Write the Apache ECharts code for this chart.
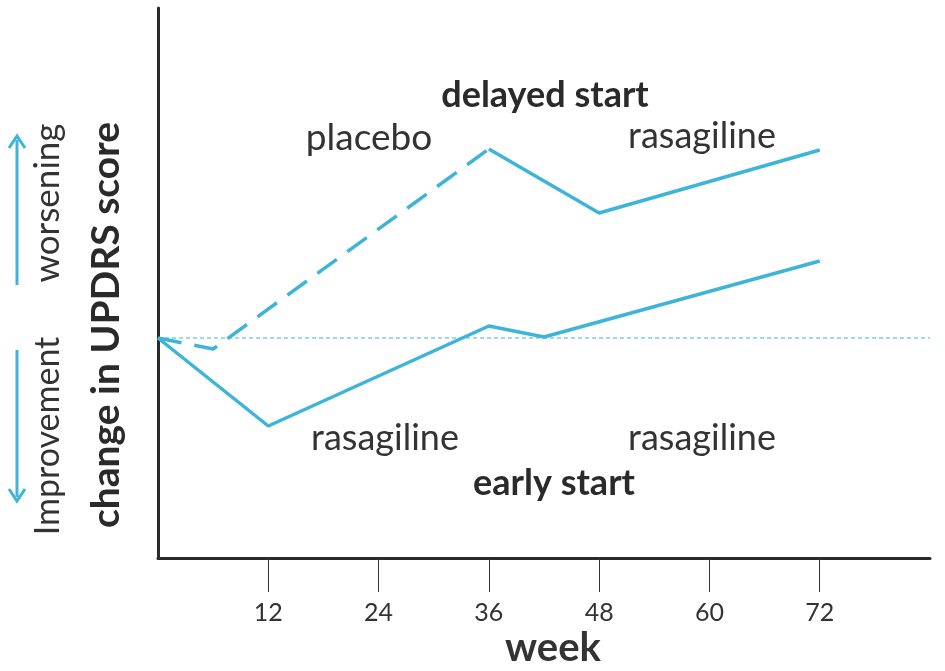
<!DOCTYPE html>
<html><head><meta charset="utf-8">
<script src="https://cdn.jsdelivr.net/npm/echarts@6/dist/echarts.min.js"></script>
<style>html,body{margin:0;padding:0;background:#fff}#c{width:945px;height:671px}</style>
</head><body><div id="c"></div>
<script>
const weekTicks = [12, 24, 36, 48, 60, 72];
const delayedPlaceboWeeks = [0, 6, 36];
const delayedPlaceboValues = [0, -1.1, 18.9];
const delayedRasaWeeks = [36, 48, 72];
const delayedRasaValues = [18.9, 12.5, 18.8];
const earlyWeeks = [0, 12, 36, 42, 72];
const earlyValues = [0, -8.8, 1.2, 0.1, 7.7];
const baselineWeeks = [0, 84];
const baselineValues = [0, 0];

const C = '#3db4d8';
const FONT = 'Lato, "Open Sans", sans-serif';
const zip = (a, b) => a.map((x, i) => [x, b[i]]);

const chart = echarts.init(document.getElementById('c'));
chart.setOption({
  animation: false,
  backgroundColor: '#fff',
  grid: { left: 158, top: 8, right: 15, bottom: 113 },
  xAxis: {
    type: 'value', min: 0, max: 84, interval: 12,
    splitLine: { show: false },
    axisLine: { onZero: false, lineStyle: { color: '#2a2a2a', width: 3 } },
    axisTick: { show: true, length: 34, customValues: weekTicks, lineStyle: { color: '#333', width: 1 } },
    axisLabel: { customValues: weekTicks, margin: 42, fontSize: 25, color: '#333', fontFamily: FONT }
  },
  yAxis: {
    type: 'value', min: -22, max: 33,
    splitLine: { show: false },
    axisLine: { show: true, onZero: false, lineStyle: { color: '#2a2a2a', width: 3 } },
    axisTick: { show: false },
    axisLabel: { show: false }
  },
  series: [
    { type: 'line', data: zip(baselineWeeks, baselineValues), symbol: 'none',
      lineStyle: { color: C, width: 1, type: [4, 3] }, silent: true },
    { type: 'line', data: zip(delayedPlaceboWeeks, delayedPlaceboValues), symbol: 'none',
      lineStyle: { color: C, width: 3.5, type: [24, 13] } },
    { type: 'line', data: zip(delayedRasaWeeks, delayedRasaValues), symbol: 'none',
      lineStyle: { color: C, width: 3.5 } },
    { type: 'line', data: zip(earlyWeeks, earlyValues), symbol: 'none',
      lineStyle: { color: C, width: 3.5 } }
  ],
  graphic: [
    { type: 'text', x: 553, y: 648, style: { text: 'week', font: 'bold 40px ' + FONT, fill: '#333', textAlign: 'center', textVerticalAlign: 'middle' } },
    { type: 'text', x: 545, y: 95, style: { text: 'delayed start', font: 'bold 36px ' + FONT, fill: '#2a2a2a', textAlign: 'center', textVerticalAlign: 'middle' } },
    { type: 'text', x: 554, y: 483, style: { text: 'early start', font: 'bold 36px ' + FONT, fill: '#2a2a2a', textAlign: 'center', textVerticalAlign: 'middle' } },
    { type: 'text', x: 369, y: 138, style: { text: 'placebo', font: '37px ' + FONT, fill: '#333', textAlign: 'center', textVerticalAlign: 'middle' } },
    { type: 'text', x: 702, y: 136, style: { text: 'rasagiline', font: '36px ' + FONT, fill: '#333', textAlign: 'center', textVerticalAlign: 'middle' } },
    { type: 'text', x: 385, y: 438, style: { text: 'rasagiline', font: '36px ' + FONT, fill: '#333', textAlign: 'center', textVerticalAlign: 'middle' } },
    { type: 'text', x: 702, y: 438, style: { text: 'rasagiline', font: '36px ' + FONT, fill: '#333', textAlign: 'center', textVerticalAlign: 'middle' } },
    { type: 'text', x: 106, y: 325, rotation: Math.PI / 2, style: { text: 'change in UPDRS score', font: 'bold 39px ' + FONT, fill: '#2a2a2a', textAlign: 'center', textVerticalAlign: 'middle' } },
    { type: 'text', x: 48, y: 203, rotation: Math.PI / 2, style: { text: 'worsening', font: '35px ' + FONT, fill: '#333', textAlign: 'center', textVerticalAlign: 'middle' } },
    { type: 'text', x: 48, y: 436, rotation: Math.PI / 2, style: { text: 'Improvement', font: '34px ' + FONT, fill: '#333', textAlign: 'center', textVerticalAlign: 'middle' } },
    { type: 'line', shape: { x1: 17, y1: 140, x2: 17, y2: 285 }, style: { stroke: C, lineWidth: 3 } },
    { type: 'polyline', shape: { points: [[9, 148], [17, 136], [25, 148]] }, style: { stroke: C, lineWidth: 3, fill: null } },
    { type: 'line', shape: { x1: 17, y1: 350, x2: 17, y2: 497 }, style: { stroke: C, lineWidth: 3 } },
    { type: 'polyline', shape: { points: [[9, 489], [17, 501], [25, 489]] }, style: { stroke: C, lineWidth: 3, fill: null } }
  ]
});
</script></body></html>
